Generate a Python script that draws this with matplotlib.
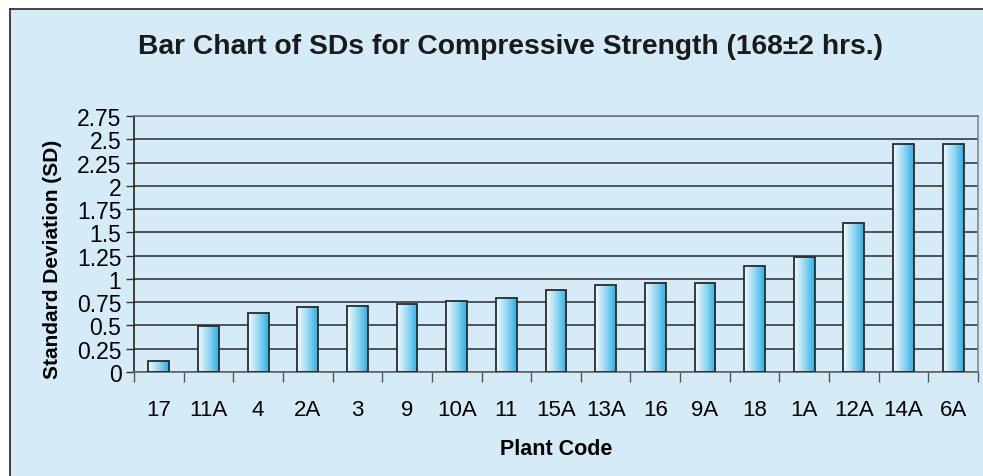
import numpy as np
import matplotlib
matplotlib.use("Agg")
from matplotlib import pyplot as plt
from matplotlib.colors import LinearSegmentedColormap
from matplotlib.patches import Rectangle
from matplotlib.lines import Line2D

plants = ['17', '11A', '4', '2A', '3', '9', '10A', '11', '15A', '13A',
          '16', '9A', '18', '1A', '12A', '14A', '6A']
sd = [0.12, 0.49, 0.63, 0.70, 0.71, 0.73, 0.76, 0.80, 0.88, 0.93,
      0.96, 0.96, 1.14, 1.23, 1.60, 2.45, 2.45]
yticks = [0, 0.25, 0.5, 0.75, 1, 1.25, 1.5, 1.75, 2, 2.25, 2.5, 2.75]
ytick_labels = ['0', '0.25', '0.5', '0.75', '1', '1.25', '1.5', '1.75',
                '2', '2.25', '2.5', '2.75']

bg = '#d5ebf8'
plt.rcParams['font.family'] = ['Liberation Sans', 'DejaVu Sans']

fig = plt.figure(figsize=(9.83, 4.77), dpi=100)
fig.patch.set_facecolor('white')

# light blue panel with border on top and left
x0 = 10 / 983
y1 = 1 - 10 / 477
fig.patches.append(Rectangle((x0, 0), 1 - x0, y1, transform=fig.transFigure,
                             facecolor=bg, edgecolor='none', zorder=-5))
fig.lines.append(Line2D([x0, x0], [0, y1], transform=fig.transFigure,
                        color='#333333', lw=1.3, zorder=-4))
fig.lines.append(Line2D([x0, 1], [y1, y1], transform=fig.transFigure,
                        color='#333333', lw=1.3, zorder=-4))

ax = fig.add_axes([134 / 983, 1 - 373 / 477, 844 / 983, 256 / 477])
ax.set_zorder(1)
ax.set_facecolor(bg)

cmap = LinearSegmentedColormap.from_list('barfill', ['#f2fafe', '#9bd8f2', '#28b2e5'])
grad = np.linspace(0, 1, 64).reshape(1, -1)
w = 0.42
x = np.arange(len(plants))
for xi, h in zip(x, sd):
    ax.imshow(grad, extent=[xi - w / 2, xi + w / 2, 0, h], aspect='auto',
              cmap=cmap, zorder=2, interpolation='bilinear')
ax.bar(x, sd, width=w, facecolor='none', edgecolor='#2b2b2b', linewidth=1.3, zorder=3)

ax.set_xlim(-0.5, len(plants) - 0.5)
ax.set_ylim(0, 2.75)

ax.set_yticks(yticks)
ax.set_yticklabels(ytick_labels, fontsize=16.5)
ax.yaxis.grid(True, color='#3a3a3a', linewidth=1.2, zorder=1)
ax.set_axisbelow(True)
ax.tick_params(axis='y', length=6, width=1, pad=3, color='#333333')

ax.set_xticks(np.arange(len(plants) + 1) - 0.5)
ax.set_xticklabels([])
ax.tick_params(axis='x', which='major', length=7, width=1, color='#555555')
ax.set_xticks(x, minor=True)
ax.set_xticklabels(plants, minor=True, fontsize=16)
ax.tick_params(axis='x', which='minor', length=0, pad=19.5)

ax.spines['left'].set_color('#222222')
ax.spines['bottom'].set_color('#666666')
ax.spines['top'].set_color('#777777')
ax.spines['right'].set_color('#888888')
for s in ax.spines.values():
    s.set_linewidth(1.2)

ax.set_ylabel('Standard Deviation (SD)', fontsize=15, fontweight='bold')
ax.yaxis.set_label_coords(-0.085, 0.445)
ax.set_xlabel('Plant Code', fontsize=15.5, fontweight='bold', labelpad=13)
fig.text(510 / 983, 1 - 47 / 477, 'Bar Chart of SDs for Compressive Strength (168\u00b12 hrs.)',
         ha='center', va='center', fontsize=20.3, fontweight='bold', color='#1a1a1a')

fig.savefig('out.png', dpi=100)
